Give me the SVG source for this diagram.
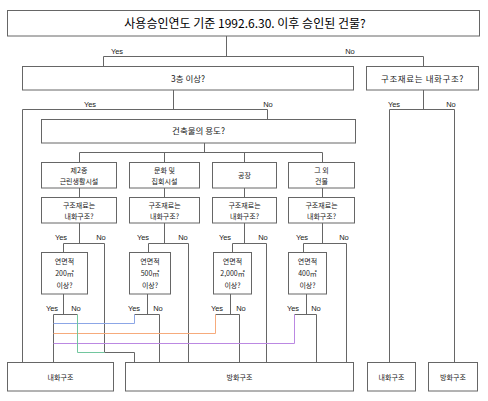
<svg xmlns="http://www.w3.org/2000/svg" width="488" height="401" viewBox="0 0 488 401">
<style>
.box{fill:#fff;stroke:#666;stroke-width:1}
.ln{fill:none;stroke:#666;stroke-width:1}
.t{font-family:"Noto Sans CJK KR","Noto Sans",sans-serif;fill:#222;text-anchor:middle}
.ttl{font-size:12px;fill:#000}
.m{font-size:8.5px}
.s{font-size:7px}
.yn{font-family:"Liberation Sans",Arial,sans-serif;font-size:7.5px;fill:#222;text-anchor:middle}
.blue{stroke:#8ca6e6}.orange{stroke:#f6ab7c}.purple{stroke:#bb88e2}.green{stroke:#72c69e}
</style>
<rect width="488" height="401" fill="#fff"/>
<g id="connectors">
<path class="ln" d="M226.5 36V56.5M103.5 56.5H423.5M103.5 56.5V66M423.5 56.5V66"/>
<path class="ln" d="M173.5 90V109.5M22.5 109.5H267.5M22.5 109.5V362M267.5 109.5V119"/>
<path class="ln" d="M423.5 90V109.5M389.5 109.5H454.5M389.5 109.5V362M454.5 109.5V362"/>
<path class="ln" d="M204.5 143V152.5M79.5 152.5H322.5M79.5 152.5V162M164.5 152.5V162M244.5 152.5V162M322.5 152.5V162"/>
<path class="ln" d="M79.5 188V197M164.5 188V197M244.5 188V197M322.5 188V197"/>
<path class="ln" d="M79.5 223V243.5M63.5 243.5H104.5M63.5 243.5V252M164.5 223V243.5M148.5 243.5H188.5M148.5 243.5V252M244.5 223V243.5M232.5 243.5H266.5M232.5 243.5V252M322.5 223V243.5M303.5 243.5H346.5M303.5 243.5V252"/>
<path class="ln" d="M104.5 243.5V352.5H134.5V362M188.5 243.5V362M266.5 243.5V362M346.5 243.5V362"/>
<path class="ln" d="M63.5 294V314.5M53.5 314.5H77.5M53.5 314.5V362M147.5 294V314.5M134.5 314.5H159.5M159.5 314.5V362M230.5 294V314.5M215.5 314.5H239.5M239.5 314.5V362M306.5 294V314.5M294.5 314.5H316.5M316.5 314.5V362"/>
<path class="ln blue" d="M134.5 314.5V323.5H53.5"/>
<path class="ln orange" d="M215.5 314.5V333.5H53.5"/>
<path class="ln purple" d="M294.5 314.5V343.5H53.5"/>
<path class="ln green" d="M77.5 314.5V352.5H104.5"/>
<text class="yn" x="117" y="53.5">Yes</text><text class="yn" x="350" y="53.5">No</text>
<text class="yn" x="90" y="106.5">Yes</text><text class="yn" x="268" y="106.5">No</text>
<text class="yn" x="394" y="106.5">Yes</text><text class="yn" x="451" y="106.5">No</text>
<text class="yn" x="61" y="239.5">Yes</text><text class="yn" x="101" y="239.5">No</text>
<text class="yn" x="143" y="239.5">Yes</text><text class="yn" x="183" y="239.5">No</text>
<text class="yn" x="225" y="239.5">Yes</text><text class="yn" x="263" y="239.5">No</text>
<text class="yn" x="302" y="239.5">Yes</text><text class="yn" x="344" y="239.5">No</text>
<text class="yn" x="52" y="310.5">Yes</text><text class="yn" x="76" y="310.5">No</text>
<text class="yn" x="134" y="310.5">Yes</text><text class="yn" x="158" y="310.5">No</text>
<text class="yn" x="217" y="310.5">Yes</text><text class="yn" x="241" y="310.5">No</text>
<text class="yn" x="293" y="310.5">Yes</text><text class="yn" x="316" y="310.5">No</text>
</g>
<g id="n-title"><rect class="box" x="7.5" y="10.5" width="472" height="25.5"/><text class="t ttl" x="245" y="27.5">사용승인연도 기준 1992.6.30. 이후 승인된 건물?</text></g>
<g id="n-floor"><rect class="box" x="22.5" y="66.5" width="331" height="23.5"/><text class="t m" x="188" y="81.5">3층 이상?</text></g>
<g id="n-struct0"><rect class="box" x="366.5" y="66.5" width="112" height="23.5"/><text class="t m" x="422.5" y="81.5" letter-spacing="0.6">구조재료는 내화구조?</text></g>
<g id="n-use"><rect class="box" x="41.5" y="119.5" width="314" height="23.5"/><text class="t m" x="198.5" y="134">건축물의 용도?</text></g>
<g id="n-c1"><rect class="box" x="41.5" y="162.5" width="75" height="25.5"/><text class="t s" x="79" y="173">제2종</text><text class="t s" x="79" y="184">근린생활시설</text></g>
<g id="n-c2"><rect class="box" x="129.5" y="162.5" width="70" height="25.5"/><text class="t s" x="164.5" y="173">문화 및</text><text class="t s" x="164.5" y="184">집회시설</text></g>
<g id="n-c3"><rect class="box" x="212.5" y="162.5" width="64" height="25.5"/><text class="t s" x="244.5" y="178">공장</text></g>
<g id="n-c4"><rect class="box" x="288.5" y="162.5" width="66" height="25.5"/><text class="t s" x="321.5" y="173">그 외</text><text class="t s" x="321.5" y="184">건물</text></g>
<g id="n-s1"><rect class="box" x="41.5" y="197.5" width="75" height="25.5"/><text class="t s" x="79" y="208">구조재료는</text><text class="t s" x="79" y="219">내화구조?</text></g>
<g id="n-s2"><rect class="box" x="129.5" y="197.5" width="70" height="25.5"/><text class="t s" x="164.5" y="208">구조재료는</text><text class="t s" x="164.5" y="219">내화구조?</text></g>
<g id="n-s3"><rect class="box" x="212.5" y="197.5" width="64" height="25.5"/><text class="t s" x="244.5" y="208">구조재료는</text><text class="t s" x="244.5" y="219">내화구조?</text></g>
<g id="n-s4"><rect class="box" x="288.5" y="197.5" width="66" height="25.5"/><text class="t s" x="321.5" y="208">구조재료는</text><text class="t s" x="321.5" y="219">내화구조?</text></g>
<g id="n-a1"><rect class="box" x="41.5" y="252.5" width="46" height="41.5"/><text class="t s" x="64.5" y="263.5">연면적</text><text class="t s" x="64.5" y="275.5">200㎡</text><text class="t s" x="64.5" y="287.5">이상?</text></g>
<g id="n-a2"><rect class="box" x="129.5" y="252.5" width="41" height="41.5"/><text class="t s" x="150" y="263.5">연면적</text><text class="t s" x="150" y="275.5">500㎡</text><text class="t s" x="150" y="287.5">이상?</text></g>
<g id="n-a3"><rect class="box" x="213.5" y="252.5" width="38" height="41.5"/><text class="t s" x="232.5" y="263.5">연면적</text><text class="t s" x="232.5" y="275.5">2,000㎡</text><text class="t s" x="232.5" y="287.5">이상?</text></g>
<g id="n-a4"><rect class="box" x="288.5" y="252.5" width="38" height="41.5"/><text class="t s" x="307.5" y="263.5">연면적</text><text class="t s" x="307.5" y="275.5">400㎡</text><text class="t s" x="307.5" y="287.5">이상?</text></g>
<g id="n-r1"><rect class="box" x="7.5" y="362.5" width="106" height="28.5"/><text class="t s" x="60.5" y="379.5">내화구조</text></g>
<g id="n-r2"><rect class="box" x="125.5" y="362.5" width="228" height="28.5"/><text class="t s" x="239.5" y="379.5">방화구조</text></g>
<g id="n-r3"><rect class="box" x="367.5" y="362.5" width="48" height="28.5"/><text class="t s" x="391.5" y="379.5">내화구조</text></g>
<g id="n-r4"><rect class="box" x="428.5" y="362.5" width="49" height="28.5"/><text class="t s" x="453" y="379.5">방화구조</text></g>
</svg>
